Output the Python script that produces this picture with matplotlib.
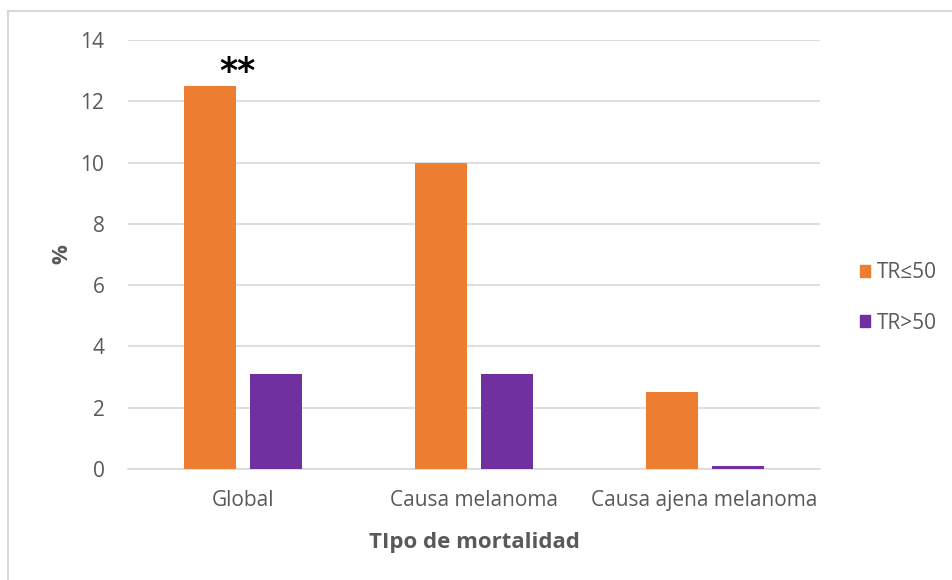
import matplotlib.pyplot as plt
from matplotlib.lines import Line2D
import numpy as np

categories = ["Global", "Causa melanoma", "Causa ajena melanoma"]
tr_low = [12.5, 10.0, 2.5]     # TR≤50
tr_high = [3.1, 3.1, 0.1]      # TR>50
series_labels = ["TR≤50", "TR>50"]
y_ticks = [0, 2, 4, 6, 8, 10, 12, 14]

orange = "#ED7D31"
purple = "#7030A0"
text_gray = "#595959"
grid_gray = "#D9D9D9"

plt.rcParams['font.family'] = ['Open Sans', 'DejaVu Sans']

fig = plt.figure(figsize=(9.53, 5.8), dpi=100)
ax = fig.add_axes([128 / 953, 1 - 469 / 580, (820 - 128) / 953, (469 - 40) / 580])

x = np.arange(len(categories))
width = 0.225
offset = 0.143
ax.bar(x - offset, tr_low, width, color=orange, label=series_labels[0], zorder=3)
ax.bar(x + offset, tr_high, width, color=purple, label=series_labels[1], zorder=3)

ax.set_xlim(-0.5, len(categories) - 0.5)
ax.set_ylim(0, 14)
ax.set_yticks(y_ticks)
ax.set_xticks(x)
ax.set_xticklabels(categories)
ax.yaxis.grid(True, color=grid_gray, linewidth=1.2, zorder=0)
ax.set_axisbelow(True)
for s in ["top", "right", "left"]:
    ax.spines[s].set_visible(False)
ax.spines["bottom"].set_color(grid_gray)
ax.spines["bottom"].set_linewidth(1.2)
ax.tick_params(axis="both", length=0, labelsize=15, colors=text_gray, labelcolor=text_gray)
ax.tick_params(axis="y", pad=17)
ax.tick_params(axis="x", pad=15)

ax.set_xlabel("TIpo de mortalidad", fontsize=16, fontweight="bold", color=text_gray, labelpad=15)
ax.set_ylabel("%", fontsize=16, fontweight="bold", color=text_gray, labelpad=6)

# significance marker over the first group
ax.text(x[0] - 0.026, 12.95, "**", ha="center", va="center",
        fontsize=25, fontweight="bold", color="black", family="DejaVu Sans")

handles = [plt.Rectangle((0, 0), 1, 1, color=orange), plt.Rectangle((0, 0), 1, 1, color=purple)]
fig.legend(handles, series_labels, loc="center left", bbox_to_anchor=(860 / 953, 1 - 298 / 580),
           frameon=False, fontsize=15, labelcolor=text_gray, handlelength=0.5, handleheight=0.5,
           handletextpad=0.3, labelspacing=1.4, borderaxespad=0, borderpad=0)

# chart area border
fig.add_artist(Line2D([8 / 953, 1], [1 - 11 / 580, 1 - 11 / 580], color=grid_gray, lw=1.5,
                      transform=fig.transFigure))
fig.add_artist(Line2D([8 / 953, 8 / 953], [0, 1 - 11 / 580], color=grid_gray, lw=1.5,
                      transform=fig.transFigure))

fig.savefig("out.png", dpi=100)
